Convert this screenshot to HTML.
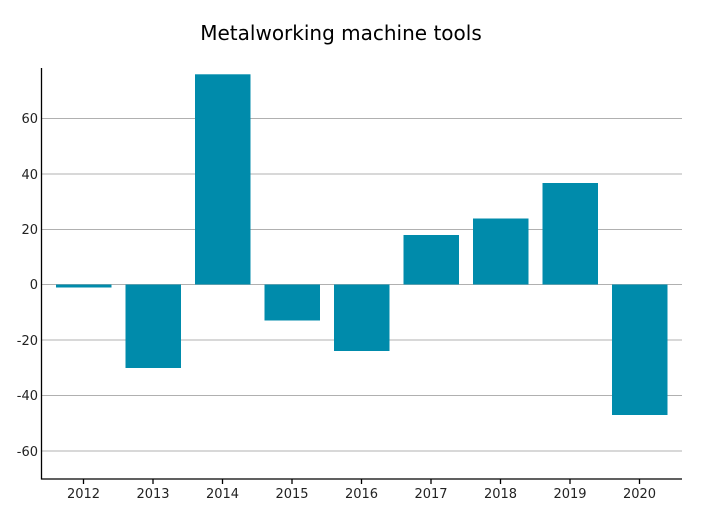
<!DOCTYPE html>
<html><head><style>body{margin:0;background:#fff}svg{display:block}text{font-family:"DejaVu Sans","Liberation Sans",sans-serif}</style></head>
<body>
<svg width="702" height="511" viewBox="0 0 702 511">
<rect width="702" height="511" fill="#fff"/>
<text x="341" y="40" font-size="20" text-anchor="middle" fill="#000">Metalworking machine tools</text>
<g stroke="#b0b0b0" stroke-width="1">
<line x1="41" x2="682" y1="118.5" y2="118.5"/>
<line x1="41" x2="682" y1="174" y2="174"/>
<line x1="41" x2="682" y1="229.5" y2="229.5"/>
<line x1="41" x2="682" y1="284.5" y2="284.5"/>
<line x1="41" x2="682" y1="340" y2="340"/>
<line x1="41" x2="682" y1="395.5" y2="395.5"/>
<line x1="41" x2="682" y1="451" y2="451"/>
</g>
<g fill="#008bab">
<rect x="56" y="284.5" width="55.5" height="3"/>
<rect x="125.5" y="284.5" width="55.5" height="83.5"/>
<rect x="195" y="74.3" width="55.5" height="210.2"/>
<rect x="264.5" y="284.5" width="55.5" height="36"/>
<rect x="334" y="284.5" width="55.5" height="66.5"/>
<rect x="403.5" y="235" width="55.5" height="49.5"/>
<rect x="473" y="218.5" width="55.5" height="66"/>
<rect x="542.5" y="183" width="55.5" height="101.5"/>
<rect x="612" y="284.5" width="55.5" height="130.5"/>
</g>
<g stroke="#000" stroke-width="1.3">
<line x1="41.5" x2="41.5" y1="68" y2="479.5"/>
<line x1="41" x2="682" y1="479" y2="479"/>
<line x1="83.5" x2="83.5" y1="479" y2="484"/>
<line x1="153" x2="153" y1="479" y2="484"/>
<line x1="222.5" x2="222.5" y1="479" y2="484"/>
<line x1="292" x2="292" y1="479" y2="484"/>
<line x1="361.5" x2="361.5" y1="479" y2="484"/>
<line x1="431" x2="431" y1="479" y2="484"/>
<line x1="500.5" x2="500.5" y1="479" y2="484"/>
<line x1="570" x2="570" y1="479" y2="484"/>
<line x1="639.5" x2="639.5" y1="479" y2="484"/>
</g>
<g font-size="13" fill="#222" text-anchor="end">
<text x="38" y="123">60</text>
<text x="38" y="179">40</text>
<text x="38" y="234">20</text>
<text x="38" y="289">0</text>
<text x="38" y="345">-20</text>
<text x="38" y="400">-40</text>
<text x="38" y="456">-60</text>
</g>
<g font-size="13" fill="#222" text-anchor="middle">
<text x="83.5" y="498">2012</text>
<text x="153" y="498">2013</text>
<text x="222.5" y="498">2014</text>
<text x="292" y="498">2015</text>
<text x="361.5" y="498">2016</text>
<text x="431" y="498">2017</text>
<text x="500.5" y="498">2018</text>
<text x="570" y="498">2019</text>
<text x="639.5" y="498">2020</text>
</g>
</svg>
</body></html>
